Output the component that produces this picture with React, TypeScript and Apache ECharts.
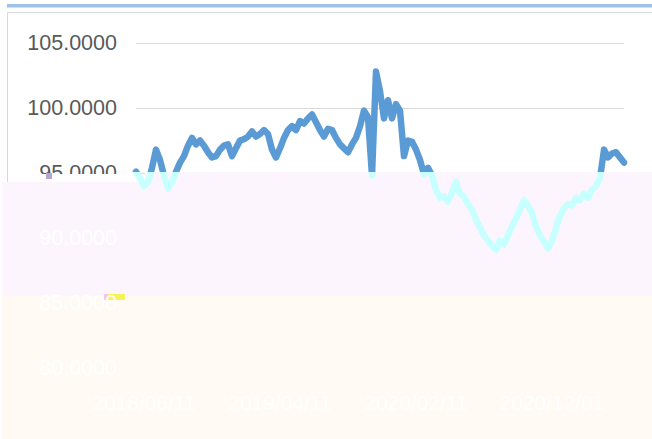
import React, { useEffect, useRef } from "react";
import * as echarts from "echarts";

// Daily NAV series (one point every ~4px)
const values: number[] = [
  95.1, 94.6, 94.0, 94.3, 95.4, 96.8, 96.0, 94.8, 93.8, 94.3,
  95.1, 95.8, 96.3, 97.1, 97.7, 97.2, 97.5, 97.1, 96.6, 96.2,
  96.3, 96.8, 97.1, 97.2, 96.3, 96.9, 97.5, 97.6, 97.8, 98.2,
  97.8, 98.0, 98.3, 98.0, 96.8, 96.2, 96.9, 97.7, 98.3, 98.6,
  98.3, 99.0, 98.8, 99.2, 99.5, 98.9, 98.3, 97.8, 98.4, 98.3,
  97.7, 97.2, 96.9, 96.6, 97.2, 97.7, 98.6, 99.8, 99.3, 94.8,
  102.8, 101.3, 99.2, 100.6, 99.2, 100.3, 99.8, 96.3, 97.5, 97.4,
  96.8, 96.0, 94.9, 95.4, 94.8, 93.7, 93.1, 93.2, 92.8, 93.5,
  94.3, 93.4, 93.2, 92.6, 92.2, 91.4, 90.8, 90.2, 89.8, 89.4,
  89.1, 89.8, 89.5, 90.2, 90.9, 91.5, 92.2, 92.9, 92.5, 91.9,
  90.9, 90.2, 89.7, 89.2, 89.8, 90.8, 91.7, 92.3, 92.6, 92.5,
  93.1, 92.9, 93.4, 93.1, 93.7, 94.0, 94.6, 96.8, 96.2, 96.5,
  96.6, 96.2, 95.8,
];

const xTickLabels: string[] = ["2018/06/11", "2019/04/11", "2020/02/11", "2020/12/01"];
const labelEvery = 34;
const categories: string[] = values.map((_, i) => String(i));

const yMin = 80;
const yMax = 105;
const yStep = 5;

const FONT = "Liberation Sans";

export default function App() {
  const ref = useRef<HTMLDivElement>(null);

  useEffect(() => {
    document.body.style.margin = "0";
    if (!ref.current) return;
    const chart = echarts.init(ref.current, undefined, { renderer: "svg" });

    const H = 439;
    const cut = 172;
    const lineColor = new echarts.graphic.LinearGradient(
      0, 0, 0, H,
      [
        { offset: 0, color: "#5b9bd5" },
        { offset: cut / H, color: "#5b9bd5" },
        { offset: cut / H, color: "#c8ffff" },
        { offset: 1, color: "#c8ffff" },
      ],
      true
    );

    const fmt = (v: number | string) => Number(v).toFixed(4);

    chart.setOption({
      animation: false,
      backgroundColor: "#ffffff",
      grid: { left: 136, right: 28, top: 43, bottom: 71, containLabel: false },
      xAxis: {
        type: "category",
        data: categories,
        boundaryGap: false,
        z: 3,
        axisLine: { show: false },
        axisTick: { show: false },
        splitLine: { show: false },
        axisLabel: {
          interval: labelEvery - 1,
          formatter: (_v: string, i: number) => xTickLabels[i / labelEvery] ?? "",
          color: "#ffffff",
          fontSize: 21,
          fontFamily: FONT,
          margin: 24,
          padding: [0, 0, 0, 16],
        },
      },
      yAxis: [
        {
          type: "value",
          min: yMin,
          max: yMax,
          interval: yStep,
          z: 0,
          axisLine: { show: false },
          axisTick: { show: false },
          splitLine: { lineStyle: { color: "#d9d9d9", width: 1.2 } },
          axisLabel: {
            formatter: fmt,
            color: "#595959",
            fontSize: 21.5,
            fontFamily: FONT,
            margin: 19,
          },
        },
        {
          type: "value",
          min: yMin,
          max: yMax,
          interval: yStep,
          position: "left",
          z: 3,
          axisLine: { show: false },
          axisTick: { show: false },
          splitLine: { show: false },
          axisLabel: {
            formatter: fmt,
            color: (v: string) => (Number(v) < 95 ? "#ffffff" : "rgba(0,0,0,0)"),
            fontSize: 21.5,
            fontFamily: FONT,
            margin: 19,
          },
        },
      ],
      series: [
        {
          type: "line",
          data: values,
          yAxisIndex: 0,
          symbol: "none",
          showSymbol: false,
          z: 2,
          lineStyle: { width: 6.5, color: lineColor, join: "round", cap: "round" },
        },
      ],
      graphic: [
        { type: "rect", z: 0, shape: { x: 7, y: 4, width: 660, height: 3.5 }, style: { fill: "#9dc3e6" } },
        { type: "rect", z: 0, shape: { x: 7.5, y: 12.5, width: 700, height: 500 }, style: { fill: "none", stroke: "#d9d9d9", lineWidth: 1 } },
        { type: "rect", z: 1, shape: { x: 8, y: 174, width: 137, height: 8 }, style: { fill: "#ffffff" } },
        { type: "rect", z: 1, shape: { x: 2, y: 182, width: 143, height: 114 }, style: { fill: "#fdf5fd" } },
        { type: "rect", z: 1, shape: { x: 145, y: cut, width: 507, height: 124 }, style: { fill: "#fdf5fd" } },
        { type: "rect", z: 1, shape: { x: 2, y: 296, width: 650, height: 143 }, style: { fill: "#fffaf3" } },
        { type: "rect", z: 1, shape: { x: 46, y: 173, width: 6, height: 6 }, style: { fill: "#b9a3d6" } },
        { type: "rect", z: 1, shape: { x: 104, y: 294, width: 4, height: 6 }, style: { fill: "#f7c6f0" } },
        { type: "rect", z: 1, shape: { x: 108, y: 294, width: 17, height: 6 }, style: { fill: "#f6f25a" } },
      ],
    });

    return () => chart.dispose();
  }, []);

  return <div ref={ref} style={{ width: 652, height: 439 }} />;
}
